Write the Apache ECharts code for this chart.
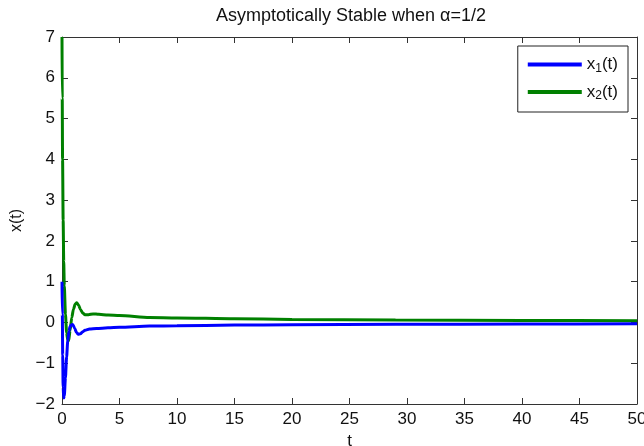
<!DOCTYPE html>
<html>
<head>
<meta charset="utf-8">
<script src="https://cdn.jsdelivr.net/npm/echarts@6/dist/echarts.min.js"></script>
<style>
  html, body { margin: 0; padding: 0; background: #fff; }
  #chart { width: 644px; height: 446px; }
</style>
</head>
<body>
<div id="chart"></div>
<script>
// Solution of the fractional-order system (alpha = 1/2), sampled in t
const t1 = [0, 0.03, 0.06, 0.1, 0.15, 0.2, 0.3, 0.4, 0.5, 0.6, 0.7, 0.8, 0.93, 1.1, 1.25, 1.4, 1.6, 1.8, 2.0, 2.4, 3, 4, 5, 7.6, 10, 15, 20, 29, 40, 50];
const x1 = [1.0, 0.2, -0.8, -1.6, -1.85, -1.8, -1.35, -0.85, -0.45, -0.22, -0.1, -0.06, -0.05, -0.14, -0.24, -0.29, -0.28, -0.23, -0.19, -0.16, -0.15, -0.13, -0.12, -0.09, -0.08, -0.065, -0.055, -0.045, -0.04, -0.035];

const t2 = [0, 0.02, 0.05, 0.1, 0.15, 0.2, 0.3, 0.4, 0.5, 0.58, 0.7, 0.85, 1.0, 1.15, 1.28, 1.45, 1.6, 1.8, 2.0, 2.3, 2.7, 3.2, 4, 5, 7.6, 10, 15, 20, 29, 40, 50];
const x2 = [7.0, 5.5, 4.0, 2.5, 1.5, 0.9, 0.2, -0.25, -0.43, -0.45, -0.2, 0.12, 0.33, 0.45, 0.48, 0.42, 0.32, 0.23, 0.19, 0.19, 0.21, 0.2, 0.18, 0.17, 0.12, 0.11, 0.09, 0.075, 0.06, 0.05, 0.04];

const xTicks = { min: 0, max: 50, interval: 5 };
const yTicks = { min: -2, max: 7, interval: 1 };

const seriesNames = ['x1(t)', 'x2(t)'];
const seriesColors = ['#0000ff', '#008000'];

const font = 'Liberation Sans, Arial, sans-serif';
const minus = v => String(v).replace('-', '\u2212');

function pairs(ts, vs) { return ts.map((t, i) => [t, vs[i]]); }

const tickStyle = { inside: true, length: 6, lineStyle: { color: '#333', width: 1 } };
const lineStyle = { color: '#333', width: 1 };
const labelSize = 17;

const chart = echarts.init(document.getElementById('chart'), null, { renderer: 'canvas' });
chart.setOption({
  animation: false,
  backgroundColor: '#fff',
  title: {
    text: 'Asymptotically Stable when \u03b1=1/2',
    left: 346, top: 2, textAlign: 'center',
    textStyle: { fontFamily: font, fontSize: 18, fontWeight: 'normal', color: '#111' }
  },
  grid: { left: 62, right: 7, top: 37, bottom: 42, outerBoundsMode: 'none', containLabel: false },
  legend: {
    right: 16, top: 46,
    orient: 'vertical',
    backgroundColor: '#fff',
    borderColor: '#222', borderWidth: 1,
    padding: [10, 10, 10, 10],
    itemGap: 9,
    itemWidth: 54, itemHeight: 4,
    icon: 'rect',
    data: seriesNames,
    formatter: name => {
      const k = name.charAt(1);
      return '{n|x}{s|' + k + '}{n|(t)}';
    },
    textStyle: {
      fontFamily: font, color: '#111',
      rich: {
        n: { fontFamily: font, fontSize: 17, color: '#111', lineHeight: 20, verticalAlign: 'middle' },
        s: { fontFamily: font, fontSize: 12, color: '#111', lineHeight: 20, verticalAlign: 'bottom' }
      }
    }
  },
  xAxis: [{
    type: 'value', position: 'bottom',
    min: xTicks.min, max: xTicks.max, interval: xTicks.interval,
    name: 't', nameLocation: 'middle', nameGap: 27,
    nameTextStyle: { fontFamily: font, fontSize: 17, color: '#111' },
    axisLine: { show: true, onZero: false, lineStyle },
    axisTick: tickStyle,
    axisLabel: { fontFamily: font, fontSize: labelSize, color: '#111', margin: 7 },
    splitLine: { show: false }
  }, {
    type: 'value', position: 'top',
    min: xTicks.min, max: xTicks.max, interval: xTicks.interval,
    axisLine: { show: true, onZero: false, lineStyle },
    axisTick: tickStyle,
    axisLabel: { show: false },
    splitLine: { show: false }
  }],
  yAxis: [{
    type: 'value', position: 'left',
    min: yTicks.min, max: yTicks.max, interval: yTicks.interval,
    name: 'x(t)', nameLocation: 'middle', nameGap: 35, nameRotate: 90,
    nameTextStyle: { fontFamily: font, fontSize: 16, color: '#111' },
    axisLine: { show: true, onZero: false, lineStyle },
    axisTick: tickStyle,
    axisLabel: { fontFamily: font, fontSize: labelSize, color: '#111', margin: 7, formatter: minus },
    splitLine: { show: false }
  }, {
    type: 'value', position: 'right',
    min: yTicks.min, max: yTicks.max, interval: yTicks.interval,
    axisLine: { show: true, onZero: false, lineStyle },
    axisTick: tickStyle,
    axisLabel: { show: false },
    splitLine: { show: false }
  }],
  series: [{
    name: seriesNames[0], type: 'line', showSymbol: false, symbol: 'none',
    smooth: 0.25, smoothMonotone: 'x',
    lineStyle: { color: seriesColors[0], width: 3 },
    itemStyle: { color: seriesColors[0] },
    data: pairs(t1, x1), z: 3
  }, {
    name: seriesNames[1], type: 'line', showSymbol: false, symbol: 'none',
    smooth: 0.25, smoothMonotone: 'x',
    lineStyle: { color: seriesColors[1], width: 3 },
    itemStyle: { color: seriesColors[1] },
    data: pairs(t2, x2), z: 2
  }]
});
</script>
</body>
</html>
